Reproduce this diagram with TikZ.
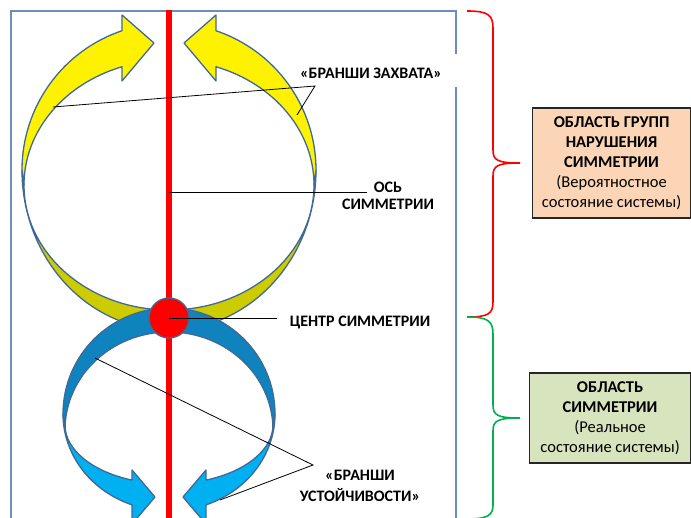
\documentclass[tikz,border=0pt]{standalone}
\usepackage{fontspec}
\setmainfont{Carlito}
\usetikzlibrary{positioning, calc}
\definecolor{ringline}{RGB}{65,105,150}
\definecolor{framecol}{RGB}{110,140,190}
\definecolor{backyellow}{RGB}{204,204,0}
\definecolor{backblue}{RGB}{14,131,190}
\definecolor{frontblue}{RGB}{0,176,240}
\definecolor{peach}{RGB}{251,213,181}
\definecolor{sage}{RGB}{215,228,189}
\definecolor{bracegreen}{RGB}{0,176,80}

\begin{document}
\begin{tikzpicture}[x=1pt, y=1pt,
        ribbon/.style={draw=ringline, line width=1.3pt, line join=round},
        lbl/.style={font=\bfseries\fontsize{16}{17}\selectfont, align=center, inner sep=0pt},
        ptr/.style={black, line width=0.8pt},
        regbox/.style={draw=black!85, line width=1.2pt, align=center, inner sep=2pt,
                       font=\fontsize{16.5}{20}\selectfont},
        brace/.style={line width=1.6pt}
      ]
        \useasboundingbox (0,0) rectangle (691,-517);

        % frame, open where the upper label sits
        \draw[framecol, line width=1.5pt] (456,-54) -- (456,-11) -- (11,-11) -- (11,-530) -- (456,-530) -- (456,-87);

        % left half of both rings, then its mirror image
        \foreach \sx/\dx in {1/0, -1/338} {
          \begin{scope}[xshift=\dx pt, xscale=\sx]
            \filldraw[ribbon, fill=backyellow] (22,-170) arc[start angle=180, end angle=270, x radius=147, y radius=160]
              -- (169,-310) arc[start angle=270, end angle=180, x radius=145, y radius=125] -- cycle;
            \filldraw[ribbon, fill=yellow] (22,-170) arc[start angle=180, end angle=108.65, radius=147]
              -- (122,-15) -- (154,-43) -- (122,-81) -- (122,-66.75)
              arc[start angle=108.91, end angle=180, x radius=145, y radius=125] -- cycle;
            \filldraw[ribbon, fill=backblue] (63,-414) arc[start angle=180, end angle=90, radius=106]
              -- (169,-332) arc[start angle=90, end angle=180, x radius=104, y radius=98] -- cycle;
            \filldraw[ribbon, fill=frontblue] (63,-414) arc[start angle=180, end angle=249.57, x radius=106, y radius=97]
              -- (132,-524) -- (155,-497) -- (132,-470) -- (132,-480.1)
              arc[start angle=249.16, end angle=180, x radius=104, y radius=59] -- cycle;
          \end{scope}
        }

        % axis and centre
        \coordinate (axtop) at (169,-10);
        \coordinate (axbot) at (169,-520);
        \draw[red, line width=6pt] (axtop) -- (axbot);
        \node[circle, fill=red, draw=ringline, line width=1.3pt, minimum size=40pt, inner sep=0pt] (centre) at (169,-318) {};

        % labels
        \node[lbl] (capture) at (371,-73) {«БРАНШИ ЗАХВАТА»};
        \coordinate (capfork) at (315,-86);
        \coordinate (capleft) at (53,-107);
        \coordinate (capright) at (297,-115);
        \draw[ptr] (capleft) -- (capfork) -- (capright);

        \node[lbl] (axislbl) at (388,-196) {ОСЬ\\СИММЕТРИИ};
        \coordinate (axmark) at (169,-192);
        \coordinate (axend) at (367,-192);
        \draw[ptr] (axmark) -- (axend);

        \node[lbl] (centrelbl) at (360,-322) {ЦЕНТР СИММЕТРИИ};
        \coordinate (centreend) at (277,-318);
        \draw[ptr] (centre.center) -- (centreend);

        \node[lbl] (stablbl) at (360,-486) {«БРАНШИ\\[4pt]УСТОЙЧИВОСТИ»};
        \coordinate (stabfork) at (313,-465);
        \coordinate (stableft) at (95,-358);
        \coordinate (stabright) at (220,-500);
        \draw[ptr] (stableft) -- (stabfork) -- (stabright);

        % braces and region boxes
        \coordinate (redtip) at (520,-163);
        \coordinate (greentip) at (520,-418);
        \draw[brace, red] (467,-11) .. controls (488,-11) and (493,-15) .. (493,-28) -- (493,-150)
              .. controls (493,-160) and (497,-163) .. (redtip)
              .. controls (497,-163) and (493,-166) .. (493,-176) -- (493,-302)
              .. controls (493,-314) and (488,-317) .. (467,-317);
        \draw[brace, bracegreen] (467,-317) .. controls (488,-317) and (493,-321) .. (493,-334) -- (493,-405)
              .. controls (493,-415) and (497,-418) .. (greentip)
              .. controls (497,-418) and (493,-421) .. (493,-431) -- (493,-505)
              .. controls (493,-515) and (488,-519) .. (467,-519);

        \node[regbox, fill=peach, minimum width=158pt, minimum height=110pt, right=12pt of redtip] (breakbox)
              {\textbf{ОБЛАСТЬ ГРУПП}\\\textbf{НАРУШЕНИЯ}\\\textbf{СИММЕТРИИ}\\(Вероятностное\\состояние системы)};
        \node[regbox, fill=sage, minimum width=161pt, minimum height=90pt, right=9pt of greentip] (symbox)
              {\textbf{ОБЛАСТЬ}\\\textbf{СИММЕТРИИ}\\(Реальное\\состояние системы)};
      \end{tikzpicture}
\end{document}
